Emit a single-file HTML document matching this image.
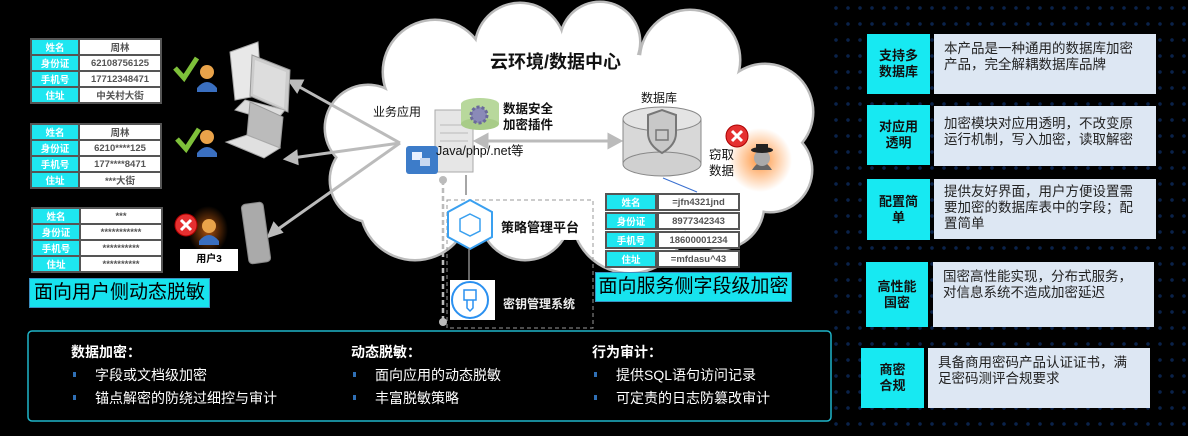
<!DOCTYPE html>
<html><head><meta charset="utf-8">
<style>
*{margin:0;padding:0;box-sizing:border-box}
body{width:1188px;height:436px;background:#000;position:relative;overflow:hidden;font-family:"Liberation Sans","Noto Sans CJK SC",sans-serif}
.abs{position:absolute}
table.t{position:absolute;border-collapse:collapse;font-size:9.5px;font-weight:bold}
table.t td{border:2px solid #555;height:16px;text-align:center;padding:0}
table.t td.k{background:#1ee6f0;color:#fff;width:48px}
table.t td.v{background:#fff;color:#555}
.lbl{position:absolute;background:#17e3ee;color:#000;font-size:19px;text-align:center;border:1px solid #3a8fc0}
.rk{position:absolute;background:#17e9f2;color:#111;font-weight:bold;font-size:13px;text-align:center;display:flex;align-items:center;justify-content:center;line-height:16px}
.rv{position:absolute;background:#dde7f3;color:#222;font-size:13.5px;line-height:16px;padding:7px 22px 7px 10px}
.dots{position:absolute;left:830px;top:0;width:358px;height:436px;background-image:radial-gradient(circle,#0d2a5c 1.6px,transparent 2px);background-size:12px 16px;opacity:.8}
.bt{position:absolute;color:#fff;font-size:14px}
.bt b{font-size:14px}
.bt .li{position:relative;padding-left:24px;margin-top:3px}
.bt .li:before{content:"";position:absolute;left:2px;top:7px;width:3px;height:5px;background:#2f6fb5}
</style></head><body>
<div class="dots"></div>

<svg class="abs" style="left:0;top:0" width="1188" height="436">
<defs>
<radialGradient id="og"><stop offset="0" stop-color="#ff8a2a" stop-opacity=".9"/><stop offset="1" stop-color="#ff8a2a" stop-opacity="0"/></radialGradient>
<radialGradient id="og2"><stop offset="0" stop-color="#c05a10" stop-opacity=".9"/><stop offset="1" stop-color="#c05a10" stop-opacity="0"/></radialGradient>
</defs>
<g fill="#fff" stroke="#bbb" stroke-width="3">
<circle cx="368" cy="128" r="43"/><circle cx="372" cy="180" r="42"/><circle cx="435" cy="72" r="52"/><circle cx="520" cy="48" r="45"/>
<circle cx="600" cy="42" r="40"/><circle cx="690" cy="60" r="50"/><circle cx="765" cy="112" r="48"/><circle cx="770" cy="170" r="42"/>
<circle cx="630" cy="215" r="58"/><circle cx="415" cy="205" r="55"/><circle cx="720" cy="205" r="44"/><circle cx="525" cy="215" r="45"/>
</g>
<g fill="#fff">
<circle cx="368" cy="128" r="42"/><circle cx="372" cy="180" r="41"/><circle cx="435" cy="72" r="51"/><circle cx="520" cy="48" r="44"/>
<circle cx="600" cy="42" r="39"/><circle cx="690" cy="60" r="49"/><circle cx="765" cy="112" r="47"/><circle cx="770" cy="170" r="41"/>
<circle cx="630" cy="215" r="57"/><circle cx="415" cy="205" r="54"/><circle cx="720" cy="205" r="43"/><circle cx="525" cy="215" r="44"/>
<ellipse cx="570" cy="145" rx="215" ry="95"/>
</g>
<g stroke="#bbb" stroke-width="3" fill="#bbb">
<line x1="400" y1="143" x2="296" y2="85"/><polygon points="290,81 302,81 297,91"/>
<line x1="400" y1="143" x2="292" y2="158"/><polygon points="286,159 296,152 297,163"/>
<line x1="400" y1="143" x2="274" y2="232"/><polygon points="269,236 274,224 281,232"/>
<line x1="480" y1="141" x2="612" y2="141"/><polygon points="476,141 487,135 487,147"/><polygon points="620,141 609,135 609,147"/>
</g>
<g>
<polygon points="230,52 258,42 262,95 235,100" fill="#e8e8e8" stroke="#aaa"/>
<polygon points="252,55 290,70 288,112 250,96" fill="#ccc" stroke="#999"/>
<polygon points="255,60 286,72 284,108 253,94" fill="#ddd"/>
<polygon points="245,100 285,110 275,122 235,110" fill="#ddd" stroke="#aaa"/>
</g>
<polygon points="250,102 283,117 280,148 247,135" fill="#bbb" stroke="#999"/>
<polygon points="247,135 280,148 264,158 226,142" fill="#e0e0e0" stroke="#aaa"/>
<rect x="245" y="203" width="22" height="60" rx="4" fill="#aaa" stroke="#888" transform="rotate(-8 256 233)"/>
<g fill="#3a6fc0"><path d="M197,88 q10,-12 20,0 v4 h-20z"/><path d="M197,153 q10,-12 20,0 v4 h-20z"/></g>
<g fill="#e9a34a"><circle cx="207" cy="72" r="7"/><circle cx="207" cy="137" r="7"/></g>
<ellipse cx="208" cy="230" rx="20" ry="24" fill="url(#og2)"/>
<path d="M199,241 q10,-12 20,0 v4 h-20z" fill="#3a6fc0"/><circle cx="209" cy="226" r="7" fill="#e9a34a"/>
<g stroke="#7ec03a" stroke-width="5" fill="none"><polyline points="175,68 184,78 197,58"/><polyline points="177,139 186,149 199,129"/></g>
<circle cx="186" cy="225" r="11" fill="#e53030" stroke="#a00"/>
<path d="M181,220 l10,10 M191,220 l-10,10" stroke="#fff" stroke-width="3"/>
<rect x="435" y="110" width="38" height="62" fill="#e6e6e6" stroke="#aaa"/>
<g stroke="#bbb"><line x1="440" y1="125" x2="468" y2="125"/><line x1="440" y1="133" x2="468" y2="133"/><line x1="440" y1="141" x2="468" y2="141"/></g>
<rect x="406" y="146" width="32" height="28" rx="3" fill="#3d7cc9"/><rect x="412" y="152" width="10" height="8" fill="#e8f0ff"/><rect x="420" y="158" width="10" height="8" fill="#c8d8f0"/>
<ellipse cx="480" cy="104" rx="19" ry="6" fill="#b8d89c"/><rect x="461" y="104" width="38" height="20" fill="#b8d89c"/><ellipse cx="480" cy="124" rx="19" ry="6" fill="#a8cc88"/>
<circle cx="479" cy="115" r="8" fill="#8a8ab8" stroke="#6a6a9a" stroke-width="3" stroke-dasharray="3 2"/>
<line x1="466" y1="175" x2="466" y2="195" stroke="#888" stroke-width="1.5"/>
<line x1="443" y1="180" x2="443" y2="322" stroke="#bbb" stroke-width="2.5" stroke-dasharray="5 3"/>
<circle cx="443" cy="180" r="4" fill="#bbb"/><circle cx="443" cy="322" r="4" fill="#bbb"/>
<rect x="447" y="200" width="146" height="128" fill="none" stroke="#999" stroke-dasharray="4 3"/>
<polygon points="470,200 492,212 492,237 470,249 448,237 448,212" fill="#fff" stroke="#3aa0f0" stroke-width="2"/>
<polygon points="470,214 480,219 480,231 470,236 460,231 460,219" fill="none" stroke="#3aa0f0" stroke-width="1.5"/>
<line x1="469" y1="248" x2="469" y2="283" stroke="#888" stroke-width="1.5"/>
<rect x="450" y="280" width="45" height="40" fill="#fff"/>
<circle cx="470" cy="300" r="18" fill="#fff" stroke="#2a90f0" stroke-width="2"/>
<rect x="464" y="290" width="12" height="10" fill="none" stroke="#2a90f0" stroke-width="1.5"/><path d="M467,300 v8 l3,3 l3,-3 v-8" fill="none" stroke="#2a90f0" stroke-width="1.5"/>
<rect x="623" y="119" width="78" height="45" fill="#d8d8d8" stroke="#888"/>
<ellipse cx="662" cy="164" rx="39" ry="12" fill="#d0d0d0" stroke="#888"/>
<ellipse cx="662" cy="119" rx="39" ry="12" fill="#e4e4e4" stroke="#888"/>
<path d="M648,115 l14,-5 l14,5 v18 q0,12 -14,20 q-14,-8 -14,-20z" fill="#c8c8c8" stroke="#777" stroke-width="2"/>
<rect x="656" y="130" width="12" height="10" fill="none" stroke="#777" stroke-width="1.5"/>
<line x1="663" y1="178" x2="697" y2="192" stroke="#3a70d0"/>
<circle cx="760" cy="160" r="32" fill="url(#og)"/>
<path d="M752,170 q10,-16 20,0z" fill="#666"/><circle cx="762" cy="158" r="8" fill="#aaa"/><ellipse cx="762" cy="150" rx="11" ry="3" fill="#222"/><rect x="756" y="144" width="12" height="6" fill="#222"/>
<circle cx="737" cy="136" r="11" fill="#e53030" stroke="#a00"/>
<path d="M732,131 l10,10 M742,131 l-10,10" stroke="#fff" stroke-width="3"/>
<rect x="28" y="331" width="803" height="90" rx="4" fill="#000" stroke="#1fb5c9" stroke-width="1.5"/>
</svg>

<table class="t" style="left:30px;top:38px;width:132px">
<tr><td class="k">姓名</td><td class="v">周林</td></tr><tr><td class="k">身份证</td><td class="v">62108756125</td></tr>
<tr><td class="k">手机号</td><td class="v">17712348471</td></tr><tr><td class="k">住址</td><td class="v">中关村大街</td></tr></table>
<table class="t" style="left:30px;top:123px;width:132px">
<tr><td class="k">姓名</td><td class="v">周林</td></tr><tr><td class="k">身份证</td><td class="v">6210****125</td></tr>
<tr><td class="k">手机号</td><td class="v">177****8471</td></tr><tr><td class="k">住址</td><td class="v">***大街</td></tr></table>
<table class="t" style="left:31px;top:207px;width:132px">
<tr><td class="k">姓名</td><td class="v">***</td></tr><tr><td class="k">身份证</td><td class="v">***********</td></tr>
<tr><td class="k">手机号</td><td class="v">**********</td></tr><tr><td class="k">住址</td><td class="v">**********</td></tr></table>
<div class="abs" style="left:180px;top:249px;width:58px;height:22px;background:#fff;font-size:10px;font-weight:bold;text-align:center;line-height:22px">用户3</div>
<div class="lbl" style="left:29px;top:278px;width:181px;height:30px;line-height:28px">面向用户侧动态脱敏</div>

<div class="abs" style="left:490px;top:48px;font-size:18px;font-weight:bold;color:#111">云环境/数据中心</div>
<div class="abs" style="left:373px;top:103px;font-size:12px;color:#111">业务应用</div>
<div class="abs" style="left:503px;top:101px;font-size:12.5px;font-weight:bold;color:#111;line-height:16px">数据安全<br>加密插件</div>
<div class="abs" style="left:436px;top:140px;font-size:12.5px;color:#111">Java/php/.net等</div>
<div class="abs" style="left:641px;top:89px;font-size:12px;color:#111">数据库</div>
<div class="abs" style="left:709px;top:147px;font-size:12.5px;color:#111;line-height:16px">窃取<br>数据</div>
<div class="abs" style="left:501px;top:217px;font-size:13px;font-weight:bold;color:#111">策略管理平台</div>
<div class="abs" style="left:503px;top:295px;font-size:12px;font-weight:bold;color:#eee">密钥管理系统</div>

<table class="t" style="left:605px;top:192px;width:135px;border-collapse:separate;border-spacing:0 1px">
<tr><td class="k" style="width:52px">姓名</td><td class="v">=jfn4321jnd</td></tr><tr><td class="k">身份证</td><td class="v">8977342343</td></tr>
<tr><td class="k">手机号</td><td class="v">18600001234</td></tr><tr><td class="k">住址</td><td class="v">=mfdasu^43</td></tr></table>
<div class="lbl" style="left:595px;top:272px;width:197px;height:30px;line-height:28px">面向服务侧字段级加密</div>

<div class="rk" style="left:867px;top:34px;width:63px;height:60px">支持多<br>数据库</div>
<div class="rv" style="left:934px;top:34px;width:222px;height:60px">本产品是一种通用的数据库加密产品，完全解耦数据库品牌</div>
<div class="rk" style="left:867px;top:105px;width:63px;height:60px">对应用<br>透明</div>
<div class="rv" style="left:934px;top:106px;width:222px;height:60px;padding-top:10px">加密模块对应用透明，不改变原运行机制，写入加密，读取解密</div>
<div class="rk" style="left:867px;top:179px;width:63px;height:61px">配置简<br>单</div>
<div class="rv" style="left:934px;top:179px;width:222px;height:60px;padding-top:5px">提供友好界面，用户方便设置需要加密的数据库表中的字段；配置简单</div>
<div class="rk" style="left:866px;top:262px;width:62px;height:65px">高性能<br>国密</div>
<div class="rv" style="left:933px;top:262px;width:221px;height:65px">国密高性能实现，分布式服务，对信息系统不造成加密延迟</div>
<div class="rk" style="left:861px;top:348px;width:63px;height:60px">商密<br>合规</div>
<div class="rv" style="left:928px;top:348px;width:222px;height:60px">具备商用密码产品认证证书，满足密码测评合规要求</div>

<div class="bt" style="left:71px;top:342px"><b>数据加密：</b><div class="li">字段或文档级加密</div><div class="li">锚点解密的防绕过细控与审计</div></div>
<div class="bt" style="left:351px;top:342px"><b>动态脱敏：</b><div class="li">面向应用的动态脱敏</div><div class="li">丰富脱敏策略</div></div>
<div class="bt" style="left:592px;top:342px"><b>行为审计：</b><div class="li">提供SQL语句访问记录</div><div class="li">可定责的日志防篡改审计</div></div>
</body></html>
